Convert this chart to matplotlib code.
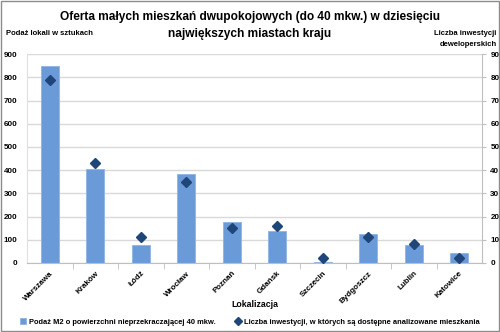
import numpy as np
import matplotlib.pyplot as plt

cities = ['Warszawa', 'Kraków', 'Łódź', 'Wrocław', 'Poznań', 'Gdańsk',
          'Szczecin', 'Bydgoszcz', 'Lublin', 'Katowice']
supply = [848, 403, 77, 383, 178, 138, 4, 125, 77, 42]
investments = [79, 43, 11, 35, 15, 16, 2, 11, 8, 2]

plt.rcParams['font.family'] = ['Liberation Sans', 'DejaVu Sans']

fig = plt.figure(figsize=(5, 3.32), dpi=100)
ax = fig.add_axes([0.054, 0.208, 0.91, 0.629])
ax2 = ax.twinx()

x = np.arange(len(cities))
ax.bar(x, supply, width=0.4, color='#6a9ad8', edgecolor='#8fb4e3', linewidth=0.6, zorder=2,
       label='Podaż M2 o powierzchni nieprzekraczającej 40 mkw.')
ax2.plot(x, investments, linestyle='none', marker='D', markersize=5, color='#1f4678',
         label='Liczba inwestycji, w których są dostępne analizowane mieszkania')

ax.set_xlim(-0.5, len(cities) - 0.5)
ax.set_ylim(0, 900)
ax2.set_ylim(0, 90)
ax.set_yticks(range(0, 901, 100))
ax2.set_yticks(range(0, 91, 10))
ax.yaxis.grid(True, color='#d9d9d9', linewidth=1, zorder=0)
ax.set_axisbelow(True)

ax.set_xticks(x)
ax.set_xticklabels(cities, rotation=45, ha='right', rotation_mode='anchor', fontsize=5.8, fontweight='bold')
ax.set_xticks(np.arange(0.5, len(cities) - 1, 1), minor=True)
ax.tick_params(axis='x', which='major', length=0, pad=5)
ax.tick_params(axis='x', which='minor', length=4, color='#bfbfbf')
ax.tick_params(axis='y', length=0, labelsize=5.8, pad=7)
ax2.tick_params(axis='y', length=3, color='#bfbfbf', labelsize=5.8, pad=3)
for lab in ax.get_yticklabels() + ax2.get_yticklabels():
    lab.set_fontweight('bold')

for a in (ax, ax2):
    for s in a.spines.values():
        s.set_visible(False)
ax.spines['bottom'].set_visible(True)
ax.spines['bottom'].set_color('#bfbfbf')
ax2.spines['right'].set_visible(True)
ax2.spines['right'].set_color('#bfbfbf')
ax.spines['left'].set_visible(True)
ax.spines['left'].set_color('#e0e0e0')

ax.set_xlabel('Lokalizacja', fontsize=6.3, fontweight='bold', labelpad=-3)
# title as two lines so the second one sits between the side labels
fig.text(0.5, 0.948, 'Oferta małych mieszkań dwupokojowych (do 40 mkw.) w dziesięciu',
         ha='center', va='center', fontsize=8.6, fontweight='bold')
fig.text(0.5, 0.898, 'największych miastach kraju',
         ha='center', va='center', fontsize=8.6, fontweight='bold')
fig.text(0.012, 0.9, 'Podaż lokali w sztukach', fontsize=5.5, fontweight='bold', va='center')
fig.text(0.993, 0.882, 'Liczba inwestycji\ndeweloperskich', fontsize=5.5, fontweight='bold',
         ha='right', va='center', multialignment='right', linespacing=1.7)

h1, l1 = ax.get_legend_handles_labels()
h2, l2 = ax2.get_legend_handles_labels()
fig.legend(h1 + h2, l1 + l2, loc='center', bbox_to_anchor=(0.5, 0.03), ncol=2, frameon=False,
           handlelength=0.8, handletextpad=0.4, columnspacing=2.6, markerscale=0.85,
           prop={'weight': 'bold', 'size': 5.4})

fig.patches.append(plt.Rectangle((0.002, 0.003), 0.996, 0.994, transform=fig.transFigure,
                                 fill=False, edgecolor='#8c8c8c', linewidth=1))

fig.savefig('out.png', dpi=100)
